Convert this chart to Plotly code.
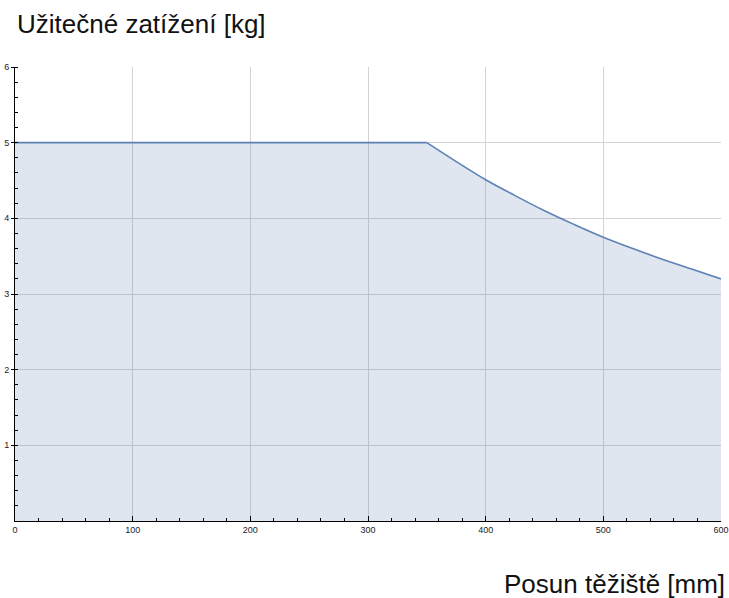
import plotly.graph_objects as go

# Data
flat_mm = [0, 350]
flat_kg = [5.0, 5.0]
curve_mm = [350, 375, 400, 425, 450, 475, 500, 525, 550, 575, 600]
curve_kg = [5.0, 4.75, 4.51, 4.30, 4.10, 3.92, 3.75, 3.60, 3.46, 3.33, 3.20]
x_ticks = [0, 100, 200, 300, 400, 500, 600]
y_ticks = [1, 2, 3, 4, 5, 6]
y_label = "Užitečné zatížení [kg]"
x_label = "Posun těžiště [mm]"

line_col = "#5E81B5"
fill_col = "rgba(94,129,181,0.2)"

fig = go.Figure()
fig.add_trace(go.Scatter(
    x=flat_mm, y=flat_kg, mode="lines",
    line=dict(color=line_col, width=1.6),
    fill="tozeroy", fillcolor=fill_col,
    hoverinfo="skip", showlegend=False,
))
fig.add_trace(go.Scatter(
    x=curve_mm, y=curve_kg, mode="lines",
    line=dict(color=line_col, width=1.6, shape="spline", smoothing=1.0),
    fill="tozeroy", fillcolor=fill_col,
    hoverinfo="skip", showlegend=False,
))

grid_col = "#d4d4d4"
fig.update_layout(
    width=729, height=598,
    margin=dict(l=15, r=8, t=67, b=77),
    paper_bgcolor="white", plot_bgcolor="white",
    font=dict(family="Liberation Sans, Arial, sans-serif", color="black"),
    xaxis=dict(
        range=[0, 600], tickvals=x_ticks, showgrid=True, gridcolor=grid_col, gridwidth=1,
        showline=True, linecolor="black", linewidth=1, zeroline=False, automargin=False,
        ticks="inside", ticklen=5, tickcolor="black", tickfont=dict(size=9, color="#222"),
        minor=dict(dtick=20, ticks="inside", ticklen=3, tickcolor="black", showgrid=False),
        fixedrange=True,
    ),
    yaxis=dict(
        range=[0, 6], tickvals=y_ticks, showgrid=True, gridcolor=grid_col, gridwidth=1,
        showline=True, linecolor="black", linewidth=1, zeroline=False, automargin=False,
        ticks="outside", ticklen=3, tickcolor="black", tickfont=dict(size=9, color="#222"),
        minor=dict(dtick=0.2, ticks="inside", ticklen=3, tickcolor="black", showgrid=False),
        fixedrange=True,
    ),
    annotations=[
        dict(text=y_label, xref="paper", yref="paper", x=0.0, y=1.0947,
             xanchor="left", yanchor="middle", showarrow=False,
             font=dict(size=26, color="#111")),
        dict(text=x_label, xref="paper", yref="paper", x=1.008, y=-0.1388,
             xanchor="right", yanchor="middle", showarrow=False,
             font=dict(size=26, color="#111")),
    ],
)

fig.write_html(
    "out.html",
    config={"displayModeBar": False},
    post_script="document.body.style.margin='0';document.body.style.overflow='hidden';",
)
